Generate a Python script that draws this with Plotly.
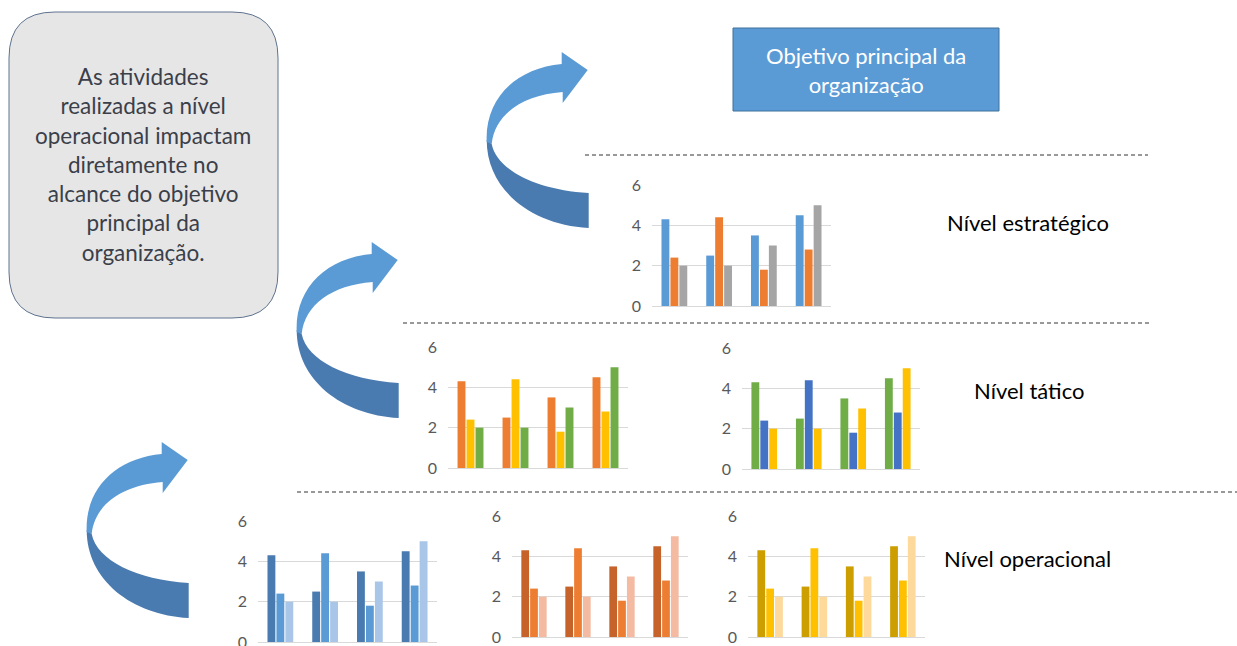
import plotly.graph_objects as go

W, H = 1237, 646

# Series shared by every small chart
categorias = ["Categoria 1", "Categoria 2", "Categoria 3", "Categoria 4"]
serie1 = [4.3, 2.5, 3.5, 4.5]
serie2 = [2.4, 4.4, 1.8, 2.8]
serie3 = [2.0, 2.0, 3.0, 5.0]
nomes = ["Série 1", "Série 2", "Série 3"]
ticks_y = [0, 2, 4, 6]

# Colour sets for each small chart
cores_estrategico = ["#5B9BD5", "#ED7D31", "#A5A5A5"]
cores_tatico_a = ["#ED7D31", "#FFC000", "#70AD47"]
cores_tatico_b = ["#70AD47", "#4472C4", "#FFC000"]
cores_oper_a = ["#4A7BB0", "#5B9BD5", "#A9C5E8"]
cores_oper_b = ["#C6632A", "#ED7D31", "#F4BAA2"]
cores_oper_c = ["#CC9E00", "#FFC000", "#FDD99C"]

# Plot area of each chart in pixels: (left, right, top, bottom)
paineis = [
    ((652, 831, 185, 306), cores_estrategico),
    ((448, 628, 347, 468), cores_tatico_a),
    ((742, 920, 348, 469), cores_tatico_b),
    ((258, 437, 521, 642), cores_oper_a),
    ((512, 688, 516, 637), cores_oper_b),
    ((748, 925, 516, 637), cores_oper_c),
]

FONT = "Lato"
fig = go.Figure()
layout = {}

for i, ((x0, x1, y0, y1), cores) in enumerate(paineis, start=1):
    sfx = "" if i == 1 else str(i)
    for nome, valores, cor in zip(nomes, [serie1, serie2, serie3], cores):
        fig.add_trace(go.Bar(
            x=categorias, y=valores, name=nome, marker_color=cor,
            marker_line_width=0, xaxis="x" + sfx, yaxis="y" + sfx,
            showlegend=False, hoverinfo="skip",
        ))
    layout["xaxis" + sfx] = dict(
        domain=[x0 / W, x1 / W], anchor="y" + sfx, automargin=False,
        showticklabels=False, showgrid=False, zeroline=False,
        showline=False, ticks="", fixedrange=True,
    )
    layout["yaxis" + sfx] = dict(
        domain=[1 - y1 / H, 1 - y0 / H], anchor="x" + sfx, automargin=False,
        range=[0, 6], tickvals=ticks_y, showgrid=True,
        gridcolor="#D9D9D9", gridwidth=1, zeroline=True,
        zerolinecolor="#D9D9D9", zerolinewidth=1, showline=False,
        ticks="", ticklabelstandoff=10, ticklabeloverflow="allow",
        tickfont=dict(family=FONT, size=16, color="#595959"),
        fixedrange=True,
    )

# Full-page pixel axis for the diagram decorations
layout["xaxis7"] = dict(domain=[0, 1], range=[0, W], visible=False,
                        anchor="y7", fixedrange=True, automargin=False)
layout["yaxis7"] = dict(domain=[0, 1], range=[H, 0], visible=False,
                        anchor="x7", fixedrange=True, automargin=False)

shapes = []


def seta_curva(lx, ly):
    """Curved C-shaped arrow whose leftmost point is (lx, ly)."""
    def p(dx, dy):
        return f"{lx + dx:.1f},{ly + dy:.1f}"
    clara = (f"M {p(0, 2)} C {p(-2, -42)} {p(30, -72)} {p(75, -76)} "
             f"L {p(75, -88)} L {p(101, -70)} L {p(76, -37)} L {p(76, -48)} "
             f"C {p(35, -45)} {p(8, -25)} {p(5, 4)} Z")
    escura = (f"M {p(0, 0)} C {p(0, 50)} {p(45, 85)} {p(102, 88)} "
              f"L {p(102, 53)} C {p(50, 50)} {p(10, 30)} {p(5, 4)} Z")
    return [
        dict(type="path", xref="x7", yref="y7", path=escura,
             fillcolor="#4A7BB0", line=dict(width=0)),
        dict(type="path", xref="x7", yref="y7", path=clara,
             fillcolor="#5B9BD5", line=dict(width=0)),
    ]


shapes += seta_curva(486.7, 140)
shapes += seta_curva(296.7, 330)
shapes += seta_curva(86.7, 530)

# Dashed level separators
for (xa, xb, yy) in [(585, 1148, 155), (403, 1150, 323), (297, 1237, 492)]:
    shapes.append(dict(type="line", xref="x7", yref="y7", x0=xa, x1=xb,
                       y0=yy, y1=yy,
                       line=dict(color="#333333", width=1, dash="4px,3px")))

# Main objective box
shapes.append(dict(type="rect", xref="x7", yref="y7", x0=733, x1=999,
                   y0=28, y1=111, fillcolor="#5B9BD5",
                   line=dict(color="#41719C", width=1)))

# Rounded note box on the left
bx0, bx1, by0, by1, r = 9, 278, 12, 318, 46
caixa = (f"M {bx0 + r},{by0} L {bx1 - r},{by0} Q {bx1},{by0} {bx1},{by0 + r} "
         f"L {bx1},{by1 - r} Q {bx1},{by1} {bx1 - r},{by1} "
         f"L {bx0 + r},{by1} Q {bx0},{by1} {bx0},{by1 - r} "
         f"L {bx0},{by0 + r} Q {bx0},{by0} {bx0 + r},{by0} Z")
shapes.append(dict(type="path", xref="x7", yref="y7", path=caixa,
                   fillcolor="#E7E6E6", line=dict(color="#5E7390", width=1)))

annotations = [
    dict(x=866, y=70, xref="x7", yref="y7", showarrow=False,
         text="Objetivo principal da<br>organização",
         font=dict(family=FONT, size=22, color="#FFFFFF"), align="center"),
    dict(x=143, y=164, xref="x7", yref="y7", showarrow=False,
         text=("As atividades<br>realizadas a nível<br>operacional impactam"
               "<br>diretamente no<br>alcance do objetivo<br>principal da"
               "<br>organização."),
         font=dict(family=FONT, size=22.5, color="#3A3F4A"), align="center"),
    dict(x=945, y=222, xref="x7", yref="y7", showarrow=False, xanchor="left",
         text="Nível estratégico", font=dict(family=FONT, size=22, color="#000000")),
    dict(x=972, y=390, xref="x7", yref="y7", showarrow=False, xanchor="left",
         text="Nível tático", font=dict(family=FONT, size=22, color="#000000")),
    dict(x=942, y=558, xref="x7", yref="y7", showarrow=False, xanchor="left",
         text="Nível operacional", font=dict(family=FONT, size=22, color="#000000")),
]

fig.update_layout(
    width=W, height=H, margin=dict(l=0, r=0, t=0, b=0, autoexpand=False),
    paper_bgcolor="#FFFFFF", plot_bgcolor="rgba(0,0,0,0)",
    barmode="group", bargap=0.4, bargroupgap=0.12,
    shapes=shapes, annotations=annotations, showlegend=False,
    **layout,
)

fig.write_html("out.html", config={"displayModeBar": False})
